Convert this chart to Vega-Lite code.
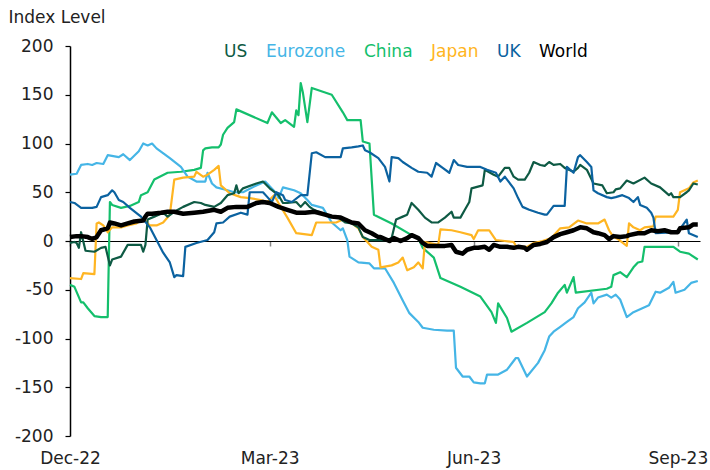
{
  "$schema": "https://vega.github.io/schema/vega-lite/v6.json",
  "autosize": {"type": "none"},
  "padding": {"left": 70, "top": 46, "right": 10, "bottom": 34},
  "width": 630,
  "height": 390,
  "background": "white",
  "config": {"view": {"stroke": null}, "font": "DejaVu Sans"},
  "data": {"values": [
    {"date":"2022-12-01","series":"China","value":-45},{"date":"2022-12-03","series":"China","value":-47},{"date":"2022-12-06","series":"China","value":-63},{"date":"2022-12-07","series":"China","value":-63},{"date":"2022-12-09","series":"China","value":-69},{"date":"2022-12-12","series":"China","value":-77},{"date":"2022-12-15","series":"China","value":-78},{"date":"2022-12-16","series":"China","value":-78},{"date":"2022-12-18","series":"China","value":-78},{"date":"2022-12-19","series":"China","value":40},{"date":"2022-12-20","series":"China","value":37},{"date":"2022-12-24","series":"China","value":34},{"date":"2022-12-28","series":"China","value":36},{"date":"2023-01-01","series":"China","value":40},{"date":"2023-01-02","series":"China","value":47},{"date":"2023-01-05","series":"China","value":50},{"date":"2023-01-08","series":"China","value":63},{"date":"2023-01-14","series":"China","value":70},{"date":"2023-01-20","series":"China","value":71},{"date":"2023-01-26","series":"China","value":73},{"date":"2023-01-29","series":"China","value":75},{"date":"2023-01-30","series":"China","value":93},{"date":"2023-01-31","series":"China","value":95},{"date":"2023-02-03","series":"China","value":96},{"date":"2023-02-06","series":"China","value":96},{"date":"2023-02-07","series":"China","value":99},{"date":"2023-02-08","series":"China","value":109},{"date":"2023-02-10","series":"China","value":116},{"date":"2023-02-13","series":"China","value":122},{"date":"2023-02-14","series":"China","value":135},{"date":"2023-02-28","series":"China","value":121},{"date":"2023-03-02","series":"China","value":132},{"date":"2023-03-06","series":"China","value":121},{"date":"2023-03-08","series":"China","value":124},{"date":"2023-03-12","series":"China","value":117},{"date":"2023-03-13","series":"China","value":134},{"date":"2023-03-14","series":"China","value":129},{"date":"2023-03-15","series":"China","value":162},{"date":"2023-03-16","series":"China","value":152},{"date":"2023-03-18","series":"China","value":122},{"date":"2023-03-20","series":"China","value":157},{"date":"2023-03-29","series":"China","value":150},{"date":"2023-04-03","series":"China","value":132},{"date":"2023-04-05","series":"China","value":124},{"date":"2023-04-11","series":"China","value":124},{"date":"2023-04-12","series":"China","value":102},{"date":"2023-04-15","series":"China","value":100},{"date":"2023-04-17","series":"China","value":27},{"date":"2023-04-25","series":"China","value":18},{"date":"2023-05-04","series":"China","value":6},{"date":"2023-05-07","series":"China","value":3},{"date":"2023-05-09","series":"China","value":-7},{"date":"2023-05-14","series":"China","value":-17},{"date":"2023-05-17","series":"China","value":-38},{"date":"2023-05-26","series":"China","value":-47},{"date":"2023-06-04","series":"China","value":-57},{"date":"2023-06-09","series":"China","value":-73},{"date":"2023-06-11","series":"China","value":-84},{"date":"2023-06-12","series":"China","value":-64},{"date":"2023-06-16","series":"China","value":-79},{"date":"2023-06-18","series":"China","value":-93},{"date":"2023-06-25","series":"China","value":-84},{"date":"2023-07-03","series":"China","value":-73},{"date":"2023-07-06","series":"China","value":-64},{"date":"2023-07-09","series":"China","value":-53},{"date":"2023-07-12","series":"China","value":-45},{"date":"2023-07-13","series":"China","value":-53},{"date":"2023-07-16","series":"China","value":-37},{"date":"2023-07-17","series":"China","value":-53},{"date":"2023-07-31","series":"China","value":-49},{"date":"2023-08-02","series":"China","value":-47},{"date":"2023-08-03","series":"China","value":-35},{"date":"2023-08-06","series":"China","value":-32},{"date":"2023-08-09","series":"China","value":-37},{"date":"2023-08-12","series":"China","value":-27},{"date":"2023-08-14","series":"China","value":-22},{"date":"2023-08-16","series":"China","value":-21},{"date":"2023-08-17","series":"China","value":-6},{"date":"2023-08-30","series":"China","value":-6},{"date":"2023-09-02","series":"China","value":-11},{"date":"2023-09-06","series":"China","value":-13},{"date":"2023-09-10","series":"China","value":-19},

    {"date":"2022-12-01","series":"Eurozone","value":68},{"date":"2022-12-04","series":"Eurozone","value":69},{"date":"2022-12-06","series":"Eurozone","value":78},{"date":"2022-12-09","series":"Eurozone","value":79},{"date":"2022-12-11","series":"Eurozone","value":78},{"date":"2022-12-13","series":"Eurozone","value":80},{"date":"2022-12-16","series":"Eurozone","value":79},{"date":"2022-12-18","series":"Eurozone","value":88},{"date":"2022-12-23","series":"Eurozone","value":86},{"date":"2022-12-25","series":"Eurozone","value":89},{"date":"2022-12-28","series":"Eurozone","value":83},{"date":"2023-01-01","series":"Eurozone","value":92},{"date":"2023-01-03","series":"Eurozone","value":100},{"date":"2023-01-05","series":"Eurozone","value":98},{"date":"2023-01-07","series":"Eurozone","value":100},{"date":"2023-01-09","series":"Eurozone","value":95},{"date":"2023-01-15","series":"Eurozone","value":85},{"date":"2023-01-20","series":"Eurozone","value":76},{"date":"2023-01-23","series":"Eurozone","value":66},{"date":"2023-01-27","series":"Eurozone","value":61},{"date":"2023-01-31","series":"Eurozone","value":61},{"date":"2023-02-01","series":"Eurozone","value":70},{"date":"2023-02-03","series":"Eurozone","value":59},{"date":"2023-02-05","series":"Eurozone","value":55},{"date":"2023-02-10","series":"Eurozone","value":52},{"date":"2023-02-13","series":"Eurozone","value":50},{"date":"2023-02-17","series":"Eurozone","value":50},{"date":"2023-02-23","series":"Eurozone","value":57},{"date":"2023-02-27","series":"Eurozone","value":61},{"date":"2023-03-04","series":"Eurozone","value":49},{"date":"2023-03-05","series":"Eurozone","value":44},{"date":"2023-03-07","series":"Eurozone","value":55},{"date":"2023-03-12","series":"Eurozone","value":52},{"date":"2023-03-15","series":"Eurozone","value":49},{"date":"2023-03-18","series":"Eurozone","value":42},{"date":"2023-03-20","series":"Eurozone","value":37},{"date":"2023-03-25","series":"Eurozone","value":34},{"date":"2023-03-29","series":"Eurozone","value":19},{"date":"2023-04-02","series":"Eurozone","value":11},{"date":"2023-04-03","series":"Eurozone","value":13},{"date":"2023-04-05","series":"Eurozone","value":1},{"date":"2023-04-06","series":"Eurozone","value":-16},{"date":"2023-04-10","series":"Eurozone","value":-22},{"date":"2023-04-15","series":"Eurozone","value":-23},{"date":"2023-04-17","series":"Eurozone","value":-28},{"date":"2023-04-22","series":"Eurozone","value":-28},{"date":"2023-04-26","series":"Eurozone","value":-43},{"date":"2023-04-30","series":"Eurozone","value":-61},{"date":"2023-05-03","series":"Eurozone","value":-74},{"date":"2023-05-07","series":"Eurozone","value":-83},{"date":"2023-05-09","series":"Eurozone","value":-89},{"date":"2023-05-14","series":"Eurozone","value":-91},{"date":"2023-05-20","series":"Eurozone","value":-92},{"date":"2023-05-23","series":"Eurozone","value":-92},{"date":"2023-05-24","series":"Eurozone","value":-130},{"date":"2023-05-27","series":"Eurozone","value":-139},{"date":"2023-05-30","series":"Eurozone","value":-139},{"date":"2023-06-01","series":"Eurozone","value":-145},{"date":"2023-06-04","series":"Eurozone","value":-146},{"date":"2023-06-06","series":"Eurozone","value":-146},{"date":"2023-06-07","series":"Eurozone","value":-137},{"date":"2023-06-12","series":"Eurozone","value":-137},{"date":"2023-06-16","series":"Eurozone","value":-132},{"date":"2023-06-20","series":"Eurozone","value":-120},{"date":"2023-06-21","series":"Eurozone","value":-120},{"date":"2023-06-25","series":"Eurozone","value":-139},{"date":"2023-06-30","series":"Eurozone","value":-125},{"date":"2023-07-03","series":"Eurozone","value":-112},{"date":"2023-07-05","series":"Eurozone","value":-98},{"date":"2023-07-07","series":"Eurozone","value":-93},{"date":"2023-07-10","series":"Eurozone","value":-88},{"date":"2023-07-13","series":"Eurozone","value":-83},{"date":"2023-07-16","series":"Eurozone","value":-78},{"date":"2023-07-18","series":"Eurozone","value":-69},{"date":"2023-07-21","series":"Eurozone","value":-63},{"date":"2023-07-24","series":"Eurozone","value":-53},{"date":"2023-07-25","series":"Eurozone","value":-64},{"date":"2023-07-27","series":"Eurozone","value":-58},{"date":"2023-07-31","series":"Eurozone","value":-55},{"date":"2023-08-02","series":"Eurozone","value":-58},{"date":"2023-08-04","series":"Eurozone","value":-55},{"date":"2023-08-06","series":"Eurozone","value":-60},{"date":"2023-08-09","series":"Eurozone","value":-78},{"date":"2023-08-12","series":"Eurozone","value":-73},{"date":"2023-08-14","series":"Eurozone","value":-71},{"date":"2023-08-19","series":"Eurozone","value":-66},{"date":"2023-08-22","series":"Eurozone","value":-52},{"date":"2023-08-24","series":"Eurozone","value":-53},{"date":"2023-08-28","series":"Eurozone","value":-48},{"date":"2023-08-30","series":"Eurozone","value":-42},{"date":"2023-08-31","series":"Eurozone","value":-53},{"date":"2023-09-04","series":"Eurozone","value":-50},{"date":"2023-09-07","series":"Eurozone","value":-43},{"date":"2023-09-10","series":"Eurozone","value":-41},

    {"date":"2022-12-01","series":"Japan","value":-38},{"date":"2022-12-06","series":"Japan","value":-39},{"date":"2022-12-07","series":"Japan","value":-33},{"date":"2022-12-12","series":"Japan","value":-34},{"date":"2022-12-13","series":"Japan","value":18},{"date":"2022-12-14","series":"Japan","value":19},{"date":"2022-12-16","series":"Japan","value":16},{"date":"2022-12-18","series":"Japan","value":9},{"date":"2022-12-20","series":"Japan","value":14},{"date":"2022-12-24","series":"Japan","value":14},{"date":"2022-12-27","series":"Japan","value":16},{"date":"2022-12-31","series":"Japan","value":18},{"date":"2023-01-03","series":"Japan","value":23},{"date":"2023-01-06","series":"Japan","value":16},{"date":"2023-01-09","series":"Japan","value":16},{"date":"2023-01-12","series":"Japan","value":19},{"date":"2023-01-15","series":"Japan","value":27},{"date":"2023-01-17","series":"Japan","value":63},{"date":"2023-01-21","series":"Japan","value":65},{"date":"2023-01-26","series":"Japan","value":66},{"date":"2023-01-27","series":"Japan","value":71},{"date":"2023-01-30","series":"Japan","value":66},{"date":"2023-02-01","series":"Japan","value":68},{"date":"2023-02-04","series":"Japan","value":73},{"date":"2023-02-06","series":"Japan","value":77},{"date":"2023-02-07","series":"Japan","value":57},{"date":"2023-02-11","series":"Japan","value":49},{"date":"2023-02-16","series":"Japan","value":45},{"date":"2023-02-20","series":"Japan","value":44},{"date":"2023-02-25","series":"Japan","value":42},{"date":"2023-02-28","series":"Japan","value":40},{"date":"2023-03-03","series":"Japan","value":47},{"date":"2023-03-05","series":"Japan","value":39},{"date":"2023-03-09","series":"Japan","value":24},{"date":"2023-03-13","series":"Japan","value":8},{"date":"2023-03-20","series":"Japan","value":6},{"date":"2023-03-22","series":"Japan","value":19},{"date":"2023-03-31","series":"Japan","value":19},{"date":"2023-04-03","series":"Japan","value":22},{"date":"2023-04-05","series":"Japan","value":22},{"date":"2023-04-10","series":"Japan","value":13},{"date":"2023-04-12","series":"Japan","value":4},{"date":"2023-04-16","series":"Japan","value":-6},{"date":"2023-04-19","series":"Japan","value":-9},{"date":"2023-04-20","series":"Japan","value":-27},{"date":"2023-04-25","series":"Japan","value":-25},{"date":"2023-04-28","series":"Japan","value":-22},{"date":"2023-04-30","series":"Japan","value":-17},{"date":"2023-05-02","series":"Japan","value":-30},{"date":"2023-05-05","series":"Japan","value":-27},{"date":"2023-05-07","series":"Japan","value":-22},{"date":"2023-05-09","series":"Japan","value":-28},{"date":"2023-05-10","series":"Japan","value":-1},{"date":"2023-05-16","series":"Japan","value":-4},{"date":"2023-05-17","series":"Japan","value":12},{"date":"2023-05-22","series":"Japan","value":11},{"date":"2023-05-26","series":"Japan","value":9},{"date":"2023-05-31","series":"Japan","value":6},{"date":"2023-06-01","series":"Japan","value":2},{"date":"2023-06-03","series":"Japan","value":11},{"date":"2023-06-08","series":"Japan","value":11},{"date":"2023-06-11","series":"Japan","value":1},{"date":"2023-06-15","series":"Japan","value":0},{"date":"2023-06-19","series":"Japan","value":-1},{"date":"2023-06-20","series":"Japan","value":-5},{"date":"2023-06-22","series":"Japan","value":-6},{"date":"2023-06-25","series":"Japan","value":-6},{"date":"2023-06-28","series":"Japan","value":-2},{"date":"2023-07-02","series":"Japan","value":0},{"date":"2023-07-06","series":"Japan","value":3},{"date":"2023-07-10","series":"Japan","value":13},{"date":"2023-07-14","series":"Japan","value":14},{"date":"2023-07-18","series":"Japan","value":21},{"date":"2023-07-22","series":"Japan","value":18},{"date":"2023-07-27","series":"Japan","value":18},{"date":"2023-07-30","series":"Japan","value":22},{"date":"2023-08-01","series":"Japan","value":11},{"date":"2023-08-03","series":"Japan","value":4},{"date":"2023-08-05","series":"Japan","value":2},{"date":"2023-08-09","series":"Japan","value":-5},{"date":"2023-08-10","series":"Japan","value":18},{"date":"2023-08-12","series":"Japan","value":14},{"date":"2023-08-15","series":"Japan","value":11},{"date":"2023-08-17","series":"Japan","value":14},{"date":"2023-08-21","series":"Japan","value":15},{"date":"2023-08-22","series":"Japan","value":25},{"date":"2023-08-30","series":"Japan","value":25},{"date":"2023-09-01","series":"Japan","value":32},{"date":"2023-09-02","series":"Japan","value":50},{"date":"2023-09-06","series":"Japan","value":54},{"date":"2023-09-08","series":"Japan","value":60},{"date":"2023-09-10","series":"Japan","value":62},

    {"date":"2022-12-01","series":"US","value":-2},{"date":"2022-12-03","series":"US","value":-1},{"date":"2022-12-04","series":"US","value":-2},{"date":"2022-12-05","series":"US","value":-7},{"date":"2022-12-06","series":"US","value":9},{"date":"2022-12-08","series":"US","value":-10},{"date":"2022-12-12","series":"US","value":-11},{"date":"2022-12-15","series":"US","value":-7},{"date":"2022-12-17","series":"US","value":-6},{"date":"2022-12-19","series":"US","value":-25},{"date":"2022-12-20","series":"US","value":-19},{"date":"2022-12-24","series":"US","value":-16},{"date":"2022-12-27","series":"US","value":-4},{"date":"2023-01-02","series":"US","value":-4},{"date":"2023-01-03","series":"US","value":-11},{"date":"2023-01-04","series":"US","value":-4},{"date":"2023-01-05","series":"US","value":22},{"date":"2023-01-08","series":"US","value":25},{"date":"2023-01-12","series":"US","value":29},{"date":"2023-01-14","series":"US","value":25},{"date":"2023-01-17","series":"US","value":30},{"date":"2023-01-21","series":"US","value":35},{"date":"2023-01-26","series":"US","value":40},{"date":"2023-01-29","series":"US","value":39},{"date":"2023-01-31","series":"US","value":37},{"date":"2023-02-04","series":"US","value":35},{"date":"2023-02-07","series":"US","value":39},{"date":"2023-02-10","series":"US","value":47},{"date":"2023-02-13","series":"US","value":49},{"date":"2023-02-14","series":"US","value":57},{"date":"2023-02-15","series":"US","value":49},{"date":"2023-02-17","series":"US","value":54},{"date":"2023-02-23","series":"US","value":59},{"date":"2023-02-26","series":"US","value":61},{"date":"2023-03-01","series":"US","value":54},{"date":"2023-03-05","series":"US","value":47},{"date":"2023-03-07","series":"US","value":39},{"date":"2023-03-09","series":"US","value":39},{"date":"2023-03-13","series":"US","value":40},{"date":"2023-03-15","series":"US","value":35},{"date":"2023-03-17","series":"US","value":40},{"date":"2023-03-19","series":"US","value":35},{"date":"2023-03-21","series":"US","value":32},{"date":"2023-03-23","series":"US","value":30},{"date":"2023-03-26","series":"US","value":27},{"date":"2023-04-01","series":"US","value":24},{"date":"2023-04-04","series":"US","value":19},{"date":"2023-04-07","series":"US","value":18},{"date":"2023-04-10","series":"US","value":14},{"date":"2023-04-12","series":"US","value":4},{"date":"2023-04-15","series":"US","value":1},{"date":"2023-04-21","series":"US","value":1},{"date":"2023-04-23","series":"US","value":1},{"date":"2023-04-25","series":"US","value":3},{"date":"2023-04-27","series":"US","value":22},{"date":"2023-04-30","series":"US","value":25},{"date":"2023-05-02","series":"US","value":27},{"date":"2023-05-04","series":"US","value":39},{"date":"2023-05-07","series":"US","value":32},{"date":"2023-05-10","series":"US","value":24},{"date":"2023-05-13","series":"US","value":19},{"date":"2023-05-16","series":"US","value":19},{"date":"2023-05-19","series":"US","value":24},{"date":"2023-05-22","series":"US","value":30},{"date":"2023-05-23","series":"US","value":24},{"date":"2023-05-26","series":"US","value":24},{"date":"2023-05-28","series":"US","value":32},{"date":"2023-05-30","series":"US","value":40},{"date":"2023-05-31","series":"US","value":54},{"date":"2023-06-05","series":"US","value":57},{"date":"2023-06-06","series":"US","value":73},{"date":"2023-06-10","series":"US","value":68},{"date":"2023-06-12","series":"US","value":66},{"date":"2023-06-15","series":"US","value":75},{"date":"2023-06-17","series":"US","value":75},{"date":"2023-06-19","series":"US","value":66},{"date":"2023-06-21","series":"US","value":63},{"date":"2023-06-24","series":"US","value":63},{"date":"2023-06-26","series":"US","value":70},{"date":"2023-06-28","series":"US","value":81},{"date":"2023-07-01","series":"US","value":78},{"date":"2023-07-03","series":"US","value":77},{"date":"2023-07-05","series":"US","value":81},{"date":"2023-07-07","series":"US","value":78},{"date":"2023-07-10","series":"US","value":79},{"date":"2023-07-12","series":"US","value":75},{"date":"2023-07-16","series":"US","value":71},{"date":"2023-07-18","series":"US","value":75},{"date":"2023-07-19","series":"US","value":78},{"date":"2023-07-22","series":"US","value":73},{"date":"2023-07-25","series":"US","value":59},{"date":"2023-07-29","series":"US","value":57},{"date":"2023-07-31","series":"US","value":49},{"date":"2023-08-03","series":"US","value":50},{"date":"2023-08-04","series":"US","value":53},{"date":"2023-08-06","series":"US","value":54},{"date":"2023-08-09","series":"US","value":62},{"date":"2023-08-12","series":"US","value":59},{"date":"2023-08-17","series":"US","value":65},{"date":"2023-08-20","series":"US","value":59},{"date":"2023-08-24","series":"US","value":55},{"date":"2023-08-28","series":"US","value":47},{"date":"2023-08-29","series":"US","value":49},{"date":"2023-08-30","series":"US","value":45},{"date":"2023-09-02","series":"US","value":45},{"date":"2023-09-05","series":"US","value":50},{"date":"2023-09-06","series":"US","value":52},{"date":"2023-09-08","series":"US","value":59},{"date":"2023-09-10","series":"US","value":58},

    {"date":"2022-12-01","series":"UK","value":40},{"date":"2022-12-03","series":"UK","value":39},{"date":"2022-12-06","series":"UK","value":34},{"date":"2022-12-11","series":"UK","value":34},{"date":"2022-12-13","series":"UK","value":35},{"date":"2022-12-15","series":"UK","value":45},{"date":"2022-12-18","series":"UK","value":47},{"date":"2022-12-20","series":"UK","value":52},{"date":"2022-12-21","series":"UK","value":50},{"date":"2022-12-23","series":"UK","value":42},{"date":"2022-12-25","series":"UK","value":40},{"date":"2022-12-28","series":"UK","value":34},{"date":"2023-01-02","series":"UK","value":25},{"date":"2023-01-06","series":"UK","value":14},{"date":"2023-01-09","series":"UK","value":1},{"date":"2023-01-12","series":"UK","value":-12},{"date":"2023-01-15","series":"UK","value":-22},{"date":"2023-01-17","series":"UK","value":-37},{"date":"2023-01-18","series":"UK","value":-35},{"date":"2023-01-21","series":"UK","value":-36},{"date":"2023-01-22","series":"UK","value":-6},{"date":"2023-01-27","series":"UK","value":-2},{"date":"2023-02-01","series":"UK","value":1},{"date":"2023-02-04","series":"UK","value":9},{"date":"2023-02-05","series":"UK","value":18},{"date":"2023-02-08","series":"UK","value":19},{"date":"2023-02-11","series":"UK","value":25},{"date":"2023-02-16","series":"UK","value":29},{"date":"2023-02-19","series":"UK","value":27},{"date":"2023-02-20","series":"UK","value":50},{"date":"2023-02-26","series":"UK","value":50},{"date":"2023-02-28","series":"UK","value":45},{"date":"2023-03-02","series":"UK","value":40},{"date":"2023-03-04","series":"UK","value":50},{"date":"2023-03-07","series":"UK","value":47},{"date":"2023-03-08","series":"UK","value":42},{"date":"2023-03-11","series":"UK","value":40},{"date":"2023-03-15","series":"UK","value":47},{"date":"2023-03-18","series":"UK","value":47},{"date":"2023-03-20","series":"UK","value":90},{"date":"2023-03-22","series":"UK","value":91},{"date":"2023-03-26","series":"UK","value":86},{"date":"2023-04-02","series":"UK","value":86},{"date":"2023-04-03","series":"UK","value":95},{"date":"2023-04-07","series":"UK","value":96},{"date":"2023-04-10","series":"UK","value":97},{"date":"2023-04-12","series":"UK","value":98},{"date":"2023-04-13","series":"UK","value":93},{"date":"2023-04-15","series":"UK","value":91},{"date":"2023-04-19","series":"UK","value":85},{"date":"2023-04-22","series":"UK","value":76},{"date":"2023-04-24","series":"UK","value":61},{"date":"2023-04-25","series":"UK","value":86},{"date":"2023-04-28","series":"UK","value":85},{"date":"2023-04-30","series":"UK","value":81},{"date":"2023-05-04","series":"UK","value":75},{"date":"2023-05-07","series":"UK","value":71},{"date":"2023-05-11","series":"UK","value":70},{"date":"2023-05-13","series":"UK","value":66},{"date":"2023-05-15","series":"UK","value":80},{"date":"2023-05-18","series":"UK","value":75},{"date":"2023-05-21","series":"UK","value":70},{"date":"2023-05-23","series":"UK","value":83},{"date":"2023-05-25","series":"UK","value":78},{"date":"2023-05-29","series":"UK","value":76},{"date":"2023-06-04","series":"UK","value":76},{"date":"2023-06-07","series":"UK","value":73},{"date":"2023-06-11","series":"UK","value":70},{"date":"2023-06-13","series":"UK","value":61},{"date":"2023-06-15","series":"UK","value":66},{"date":"2023-06-19","series":"UK","value":54},{"date":"2023-06-21","series":"UK","value":44},{"date":"2023-06-23","series":"UK","value":35},{"date":"2023-06-26","series":"UK","value":32},{"date":"2023-06-30","series":"UK","value":29},{"date":"2023-07-03","series":"UK","value":27},{"date":"2023-07-04","series":"UK","value":27},{"date":"2023-07-07","series":"UK","value":36},{"date":"2023-07-12","series":"UK","value":36},{"date":"2023-07-13","series":"UK","value":76},{"date":"2023-07-16","series":"UK","value":70},{"date":"2023-07-18","series":"UK","value":86},{"date":"2023-07-19","series":"UK","value":88},{"date":"2023-07-22","series":"UK","value":81},{"date":"2023-07-24","series":"UK","value":76},{"date":"2023-07-25","series":"UK","value":52},{"date":"2023-07-27","series":"UK","value":49},{"date":"2023-07-31","series":"UK","value":45},{"date":"2023-08-02","series":"UK","value":44},{"date":"2023-08-04","series":"UK","value":45},{"date":"2023-08-07","series":"UK","value":47},{"date":"2023-08-10","series":"UK","value":44},{"date":"2023-08-12","series":"UK","value":40},{"date":"2023-08-14","series":"UK","value":45},{"date":"2023-08-15","series":"UK","value":37},{"date":"2023-08-18","series":"UK","value":34},{"date":"2023-08-20","series":"UK","value":29},{"date":"2023-08-21","series":"UK","value":24},{"date":"2023-08-22","series":"UK","value":8},{"date":"2023-09-01","series":"UK","value":9},{"date":"2023-09-05","series":"UK","value":22},{"date":"2023-09-06","series":"UK","value":8},{"date":"2023-09-10","series":"UK","value":4},

    {"date":"2022-12-01","series":"World","value":4},{"date":"2022-12-04","series":"World","value":5},{"date":"2022-12-06","series":"World","value":5},{"date":"2022-12-09","series":"World","value":4},{"date":"2022-12-11","series":"World","value":2},{"date":"2022-12-13","series":"World","value":4},{"date":"2022-12-15","series":"World","value":11},{"date":"2022-12-18","series":"World","value":13},{"date":"2022-12-19","series":"World","value":19},{"date":"2022-12-21","series":"World","value":18},{"date":"2022-12-24","series":"World","value":16},{"date":"2022-12-27","series":"World","value":18},{"date":"2022-12-30","series":"World","value":20},{"date":"2023-01-03","series":"World","value":21},{"date":"2023-01-04","series":"World","value":25},{"date":"2023-01-05","series":"World","value":28},{"date":"2023-01-07","series":"World","value":28},{"date":"2023-01-11","series":"World","value":29},{"date":"2023-01-14","series":"World","value":30},{"date":"2023-01-17","series":"World","value":30},{"date":"2023-01-21","series":"World","value":28},{"date":"2023-01-26","series":"World","value":29},{"date":"2023-01-30","series":"World","value":30},{"date":"2023-02-04","series":"World","value":32},{"date":"2023-02-07","series":"World","value":30},{"date":"2023-02-10","series":"World","value":34},{"date":"2023-02-14","series":"World","value":35},{"date":"2023-02-19","series":"World","value":35},{"date":"2023-02-23","series":"World","value":39},{"date":"2023-02-26","series":"World","value":40},{"date":"2023-03-01","series":"World","value":39},{"date":"2023-03-05","series":"World","value":35},{"date":"2023-03-09","series":"World","value":32},{"date":"2023-03-13","series":"World","value":29},{"date":"2023-03-17","series":"World","value":29},{"date":"2023-03-21","series":"World","value":30},{"date":"2023-03-23","series":"World","value":29},{"date":"2023-03-26","series":"World","value":27},{"date":"2023-03-29","series":"World","value":25},{"date":"2023-04-02","series":"World","value":24},{"date":"2023-04-04","series":"World","value":22},{"date":"2023-04-07","series":"World","value":19},{"date":"2023-04-10","series":"World","value":18},{"date":"2023-04-13","series":"World","value":11},{"date":"2023-04-16","series":"World","value":8},{"date":"2023-04-19","series":"World","value":4},{"date":"2023-04-20","series":"World","value":4},{"date":"2023-04-24","series":"World","value":0},{"date":"2023-04-26","series":"World","value":3},{"date":"2023-04-29","series":"World","value":0},{"date":"2023-05-02","series":"World","value":3},{"date":"2023-05-04","series":"World","value":6},{"date":"2023-05-07","series":"World","value":3},{"date":"2023-05-09","series":"World","value":-2},{"date":"2023-05-11","series":"World","value":-5},{"date":"2023-05-19","series":"World","value":-5},{"date":"2023-05-22","series":"World","value":-4},{"date":"2023-05-24","series":"World","value":-11},{"date":"2023-05-27","series":"World","value":-13},{"date":"2023-05-29","series":"World","value":-9},{"date":"2023-06-01","series":"World","value":-7},{"date":"2023-06-03","series":"World","value":-7},{"date":"2023-06-06","series":"World","value":-6},{"date":"2023-06-08","series":"World","value":-9},{"date":"2023-06-10","series":"World","value":-4},{"date":"2023-06-13","series":"World","value":-6},{"date":"2023-06-16","series":"World","value":-6},{"date":"2023-06-19","series":"World","value":-7},{"date":"2023-06-21","series":"World","value":-6},{"date":"2023-06-24","series":"World","value":-7},{"date":"2023-06-25","series":"World","value":-9},{"date":"2023-06-28","series":"World","value":-4},{"date":"2023-07-01","series":"World","value":-3},{"date":"2023-07-04","series":"World","value":-1},{"date":"2023-07-07","series":"World","value":4},{"date":"2023-07-10","series":"World","value":7},{"date":"2023-07-13","series":"World","value":9},{"date":"2023-07-16","series":"World","value":11},{"date":"2023-07-19","series":"World","value":14},{"date":"2023-07-22","series":"World","value":13},{"date":"2023-07-25","series":"World","value":9},{"date":"2023-07-27","series":"World","value":8},{"date":"2023-07-30","series":"World","value":6},{"date":"2023-08-01","series":"World","value":2},{"date":"2023-08-03","series":"World","value":5},{"date":"2023-08-06","series":"World","value":4},{"date":"2023-08-09","series":"World","value":5},{"date":"2023-08-10","series":"World","value":6},{"date":"2023-08-14","series":"World","value":8},{"date":"2023-08-17","series":"World","value":8},{"date":"2023-08-20","series":"World","value":11},{"date":"2023-08-23","series":"World","value":10},{"date":"2023-08-26","series":"World","value":11},{"date":"2023-08-29","series":"World","value":9},{"date":"2023-09-01","series":"World","value":9},{"date":"2023-09-02","series":"World","value":13},{"date":"2023-09-06","series":"World","value":14},{"date":"2023-09-08","series":"World","value":17},{"date":"2023-09-10","series":"World","value":17}
  ]},
  "encoding": {
    "x": {
      "field": "date", "type": "temporal",
      "scale": {"type": "utc", "domain": [{"year": 2022, "month": 12, "date": 1, "utc": true}, {"year": 2023, "month": 9, "date": 11, "utc": true}]},
      "axis": {
        "title": null,
        "values": [{"year": 2022, "month": 12, "date": 1, "utc": true}, {"year": 2023, "month": 3, "date": 1, "utc": true}, {"year": 2023, "month": 6, "date": 1, "utc": true}, {"year": 2023, "month": 9, "date": 1, "utc": true}],
        "format": "%b-%y",
        "offset": -195,
        "domainColor": "#000", "domainWidth": 1.2,
        "tickColor": "#888", "tickSize": 5, "tickWidth": 1.5,
        "labelPadding": 204, "labelFontSize": 17, "labelColor": "#222",
        "labelFlush": false, "labelOverlap": false,
        "grid": false
      }
    },
    "y": {
      "field": "value", "type": "quantitative",
      "scale": {"domain": [-200, 200], "nice": false, "zero": false},
      "axis": {
        "title": "Index Level", "titleAngle": 0, "titleX": -62, "titleY": -29,
        "titleAlign": "left", "titleBaseline": "middle", "titleFontSize": 17,
        "titleFontWeight": "normal", "titleColor": "#222",
        "values": [-200, -150, -100, -50, 0, 50, 100, 150, 200],
        "labelExpr": "'' + datum.value",
        "domainColor": "#000", "domainWidth": 1.5,
        "tickColor": "#000", "tickSize": 5, "tickWidth": 1.2,
        "labelPadding": 12, "labelFontSize": 17, "labelColor": "#222",
        "grid": false
      }
    },
    "color": {
      "field": "series", "type": "nominal",
      "scale": {"domain": ["US", "Eurozone", "China", "Japan", "UK", "World"], "range": ["#0e5a44", "#45b5e6", "#14bf6c", "#ffb522", "#0b62a0", "#000000"]},
      "legend": {
        "title": null, "orient": "none", "legendX": 137, "legendY": -3,
        "direction": "horizontal", "columns": 6, "columnPadding": 1,
        "symbolSize": 0, "symbolStrokeWidth": 0, "symbolOpacity": 0, "labelOffset": 0,
        "labelFontSize": 17,
        "encode": {"labels": {"update": {"fill": {"scale": "color", "field": "value"}}}}
      }
    }
  },
  "layer": [
    {
      "transform": [{"filter": "datum.series !== 'World'"}],
      "mark": {"type": "line", "strokeWidth": 2.2, "strokeJoin": "round"}
    },
    {
      "transform": [{"filter": "datum.series === 'World'"}],
      "mark": {"type": "line", "strokeWidth": 4.5, "strokeJoin": "round"}
    }
  ]
}
